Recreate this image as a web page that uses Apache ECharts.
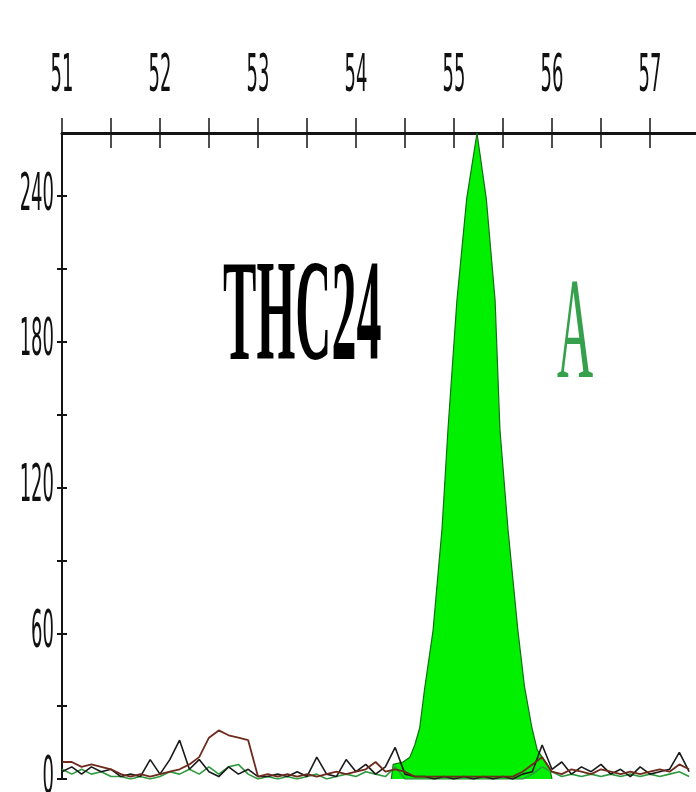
<!DOCTYPE html>
<html><head><meta charset="utf-8">
<script src="https://cdn.jsdelivr.net/npm/echarts@6/dist/echarts.min.js"></script>
<style>html,body{margin:0;padding:0;background:#fff}#c{width:696px;height:792px}</style>
</head><body><div id="c"></div>
<script>
const xTickLabels = ['51','52','53','54','55','56','57'];
const xTickValues = [51, 51.5, 52, 52.5, 53, 53.5, 54, 54.5, 55, 55.5, 56, 56.5, 57];
const yTickLabels = ['0','60','120','180','240'];
const yTickValues = [0, 30, 60, 90, 120, 150, 180, 210, 240];
const titleText = 'THC24';
const alleleText = 'A';

// main green peak (size, RFU)
const peakX = [54.36, 54.38, 54.48, 54.55, 54.60, 54.65, 54.70, 54.786, 54.878, 54.939, 55.03, 55.13, 55.235, 55.33, 55.42, 55.469, 55.551, 55.653, 55.72, 55.796, 55.85, 55.90, 55.95, 55.98, 56.00];
const peakY = [0, 6, 7, 9, 14, 21, 37, 61, 103, 144, 197, 239, 266, 239, 197, 144, 103, 61, 38, 21, 12, 9, 6, 4, 0];

// baseline noise traces
const noiseX = [51.0,51.1,51.2,51.3,51.4,51.5,51.6,51.7,51.8,51.9,
  52.0,52.1,52.2,52.3,52.4,52.5,52.6,52.7,52.8,52.9,
  53.0,53.1,53.2,53.3,53.4,53.5,53.6,53.7,53.8,53.9,
  54.0,54.1,54.2,54.3,54.4,54.5,54.6,54.7,54.8,54.9,
  55.0,55.1,55.2,55.3,55.4,55.5,55.6,55.7,55.8,55.9,
  56.0,56.1,56.2,56.3,56.4,56.5,56.6,56.7,56.8,56.9,
  57.0,57.1,57.2,57.3,57.4];
const blackTrace = [3,5,2,5,3,4,1,2,1,8,
  2,8,16,4,8,3,1,5,2,4,
  1,1,2,1,3,1,9,2,1,8,
  3,6,2,5,13,2,1,1,0,1,
  0,1,0,1,0,1,0,2,3,14,
  4,7,2,5,3,6,2,4,1,5,
  2,3,4,11,3];
const brownTrace = [7,7,5,6,5,4,2,1,2,1,
  2,3,4,6,9,17,20,18,17,16,
  1,2,1,2,1,2,1,2,3,2,
  3,4,7,3,4,3,1,1,1,1,
  1,1,1,1,1,1,1,3,6,9,
  3,2,4,3,2,4,3,2,3,2,
  3,4,3,6,4];
const greenTrace = [4,2,4,2,3,1,1,0,1,0,
  1,3,2,4,2,5,2,5,6,2,
  0,1,0,1,0,1,2,0,1,2,
  1,3,2,1,5,0,0,0,0,0,
  0,0,0,0,0,0,0,0,2,5,
  3,1,2,1,2,1,2,1,2,1,
  2,1,2,3,1];

const pairs = (xs, ys) => xs.map((x, i) => [x, ys[i]]);
const isNear = (v, t) => Math.abs(v - t) < 1e-6;
const LABEL_FONT = '"Liberation Sans Narrow", "DejaVu Sans Condensed", sans-serif';
const LABEL_STRETCH = 2.6;
const xLabelValues = xTickLabels.map(Number);
const yLabelValues = yTickLabels.map(Number);

const chart = echarts.init(document.getElementById('c'), null, {renderer: 'canvas'});

const xBase = {type: 'value', min: 51, max: 57.47, interval: 0.5, position: 'top', splitLine: {show: false}};
const yBase = {type: 'value', min: 0, max: 266, interval: 30, position: 'left', splitLine: {show: false}};
const xFmt = v => { for (let i = 0; i < xLabelValues.length; i++) if (isNear(v, xLabelValues[i])) return xTickLabels[i]; return ''; };
const yFmt = v => { for (let i = 0; i < yLabelValues.length; i++) if (isNear(v, yLabelValues[i])) return yTickLabels[i]; return ''; };

const option = {
  animation: false,
  backgroundColor: '#ffffff',
  grid: {left: 62, right: 0, top: 133, bottom: 13, containLabel: false},
  xAxis: [
    Object.assign({}, xBase, {
      axisLine: {show: true, onZero: false, lineStyle: {color: '#141414', width: 3}},
      axisTick: {show: true, inside: false, length: 15, customValues: xTickValues, lineStyle: {color: '#141414', width: 1.5}},
      axisLabel: {show: true, interval: 0, hideOverlap: false, margin: 30, color: '#111', customValues: xLabelValues,
        fontFamily: LABEL_FONT, fontSize: 20, formatter: xFmt}
    }),
    Object.assign({}, xBase, {
      axisLine: {show: false, onZero: false},
      axisTick: {show: true, inside: true, length: 15, customValues: xTickValues, lineStyle: {color: '#141414', width: 1.5}},
      axisLabel: {show: false}
    })
  ],
  yAxis: [
    Object.assign({}, yBase, {
      axisLine: {show: true, onZero: false, lineStyle: {color: '#141414', width: 2}},
      axisTick: {show: true, inside: false, length: 5, customValues: yTickValues, lineStyle: {color: '#141414', width: 2}},
      axisLabel: {show: true, margin: 8, color: '#111', customValues: yLabelValues, fontFamily: LABEL_FONT, fontSize: 20, formatter: yFmt}
    }),
    Object.assign({}, yBase, {
      axisLine: {show: false, onZero: false},
      axisTick: {show: true, inside: true, length: 5, customValues: yTickValues, lineStyle: {color: '#141414', width: 2}},
      axisLabel: {show: false}
    })
  ],
  series: [
    {type: 'line', name: 'peak', data: pairs(peakX, peakY), symbol: 'none', z: 2,
      lineStyle: {color: '#137013', width: 1.2}, areaStyle: {color: '#00f000', opacity: 1}},
    {type: 'line', name: 'green', data: pairs(noiseX, greenTrace), symbol: 'none', z: 3,
      lineStyle: {color: '#2f9a3f', width: 1.6}},
    {type: 'line', name: 'black', data: pairs(noiseX, blackTrace), symbol: 'none', z: 4,
      lineStyle: {color: '#1a1a1a', width: 1.6}},
    {type: 'line', name: 'brown', data: pairs(noiseX, brownTrace), symbol: 'none', z: 5,
      lineStyle: {color: '#6e2a1c', width: 1.8}}
  ],
  graphic: [
    {type: 'text', x: 223, y: 322, scaleX: 0.35, z: 10,
      style: {text: titleText, font: 'bold 143px "Liberation Serif", "DejaVu Serif", serif', fill: '#000', align: 'left', verticalAlign: 'middle'}},
    {type: 'text', x: 557, y: 339, scaleX: 0.35, z: 10,
      style: {text: alleleText, font: '143px "Liberation Serif", "DejaVu Serif", serif', fill: '#36a04c', align: 'left', verticalAlign: 'middle'}}
  ]
};
chart.setOption(option);

// stretch the tick labels vertically to mimic the tall, narrow lettering of the original
function stretchLabels() {
  try {
    const zr = chart.getZr();
    const set = new Set(xTickLabels.concat(yTickLabels));
    const apply = el => {
      if (el && el.type === 'text' && el.style && set.has(String(el.style.text)) && !el.__stretched) {
        el.scaleY = LABEL_STRETCH;
        el.__stretched = true;
        el.markRedraw && el.markRedraw();
      }
    };
    zr.storage.getRoots().forEach(root => {
      apply(root);
      if (root.traverse) root.traverse(apply);
    });
    zr.storage.getDisplayList(true).forEach(el => {
      if (el.parentNode) apply(el.parentNode);
    });
    zr.refreshImmediately();
  } catch (e) {}
}
stretchLabels();
chart.on('finished', stretchLabels);
</script>
</body></html>
